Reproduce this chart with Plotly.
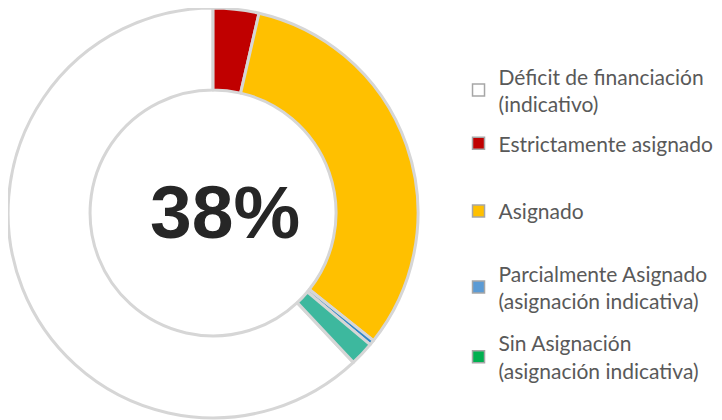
import plotly.graph_objects as go

labels = [
    "Déficit de financiación<br>(indicativo)",
    "Estrictamente asignado",
    "Asignado",
    "Parcialmente Asignado<br>(asignación indicativa)",
    "Sin Asignación<br>(asignación indicativa)",
]
values = [62.0, 3.6, 32.1, 0.4, 1.9]
slice_colors = ["#FFFFFF", "#C00000", "#FFC000", "#2E86C8", "#3DB89E"]
legend_colors = ["#FFFFFF", "#C00000", "#FFC000", "#5B9BD5", "#00B050"]
center_label = "38%"

funded = sum(values[1:])
rotation = funded / sum(values) * 360

fig = go.Figure()
fig.add_trace(go.Pie(
    labels=labels,
    values=values,
    sort=False,
    direction="clockwise",
    rotation=rotation,
    hole=0.6,
    textinfo="none",
    showlegend=False,
    marker=dict(colors=slice_colors, line=dict(color="#D6D6D6", width=3)),
    domain=dict(x=[0.0, 0.568], y=[0.024, 1.0]),
))

# legend entries (one legend box per entry, to reproduce the uneven spacing)
legend_y = [0.804, 0.677, 0.516, 0.335, 0.169]
legend_names = ["legend", "legend2", "legend3", "legend4", "legend5"]
for lab, col, lname in zip(labels, legend_colors, legend_names):
    fig.add_trace(go.Scatter(
        x=[None], y=[None], mode="markers", name=lab, legend=lname,
        marker=dict(symbol="square", size=12, color=col,
                    line=dict(color="#A6A6A6", width=1.5)),
    ))

fig.add_annotation(
    text=center_label, x=0.300, y=0.514, xref="paper", yref="paper",
    xanchor="center", yanchor="middle",
    showarrow=False,
    font=dict(family="Liberation Sans, Arial", size=75, color="#262626", weight="bold"),
)

leg_common = dict(
    x=0.624, xanchor="left", yanchor="middle",
    font=dict(family="Lato", size=21, color="#595959"),
    itemwidth=30, bgcolor="rgba(0,0,0,0)",
)
layout_legends = {}
for lname, ly in zip(legend_names, legend_y):
    layout_legends[lname] = dict(leg_common, y=ly)

fig.update_layout(
    width=722, height=420,
    margin=dict(l=0, r=0, t=0, b=0),
    paper_bgcolor="white",
    plot_bgcolor="white",
    showlegend=True,
    xaxis=dict(visible=False),
    yaxis=dict(visible=False),
    **layout_legends,
)

fig.write_html("out.html")
